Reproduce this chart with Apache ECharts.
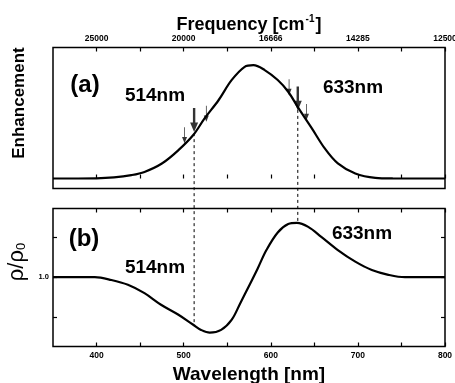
<!DOCTYPE html>
<html>
<head>
<meta charset="utf-8">
<script src="https://cdn.jsdelivr.net/npm/echarts@6/dist/echarts.min.js"></script>
<style>
  html, body { margin: 0; padding: 0; background: #fff; }
  #main { width: 455px; height: 383px; }
</style>
</head>
<body>
<div id="main"></div>
<script>
// (a) enhancement curve
var wlTop = [350, 400, 420, 440, 455, 475, 494, 511, 524, 540, 555, 570, 580, 593, 608, 620, 632, 647, 662, 677, 697, 720, 740, 800];
var enhancement = [0, 0.002, 0.01, 0.03, 0.058, 0.132, 0.25, 0.383, 0.53, 0.69, 0.867, 0.985, 1.0, 0.956, 0.868, 0.765, 0.618, 0.444, 0.265, 0.133, 0.044, 0.006, 0.001, 0];

// (b) rho / rho0
var wlBottom = [350, 398, 417, 436, 455, 474, 494, 511, 520, 530, 543, 555, 565, 575, 585, 595, 608, 620, 630, 643, 658, 677, 697, 716, 735, 754, 800];
var rhoRatio = [1.0, 1.0, 0.993, 0.981, 0.960, 0.931, 0.906, 0.881, 0.868, 0.861, 0.868, 0.893, 0.935, 0.978, 1.022, 1.068, 1.112, 1.133, 1.136, 1.126, 1.101, 1.068, 1.039, 1.018, 1.006, 1.0, 1.0];

// axis ticks / labels
var tickWl = [400, 450, 500, 550, 600, 650, 700, 750, 800];
var labelWl = [400, 500, 600, 700, 800];
var freqLabels = ['25000', '20000', '16666', '14285', '12500'];
var rhoTicks = [0.9, 1.0, 1.1];
var rhoLabels = [1.0];

// laser lines and arrows
var laserWl = [512, 631];
var laserTop = [0.40, 0.605];
var laserBottom = [0.879, 1.136];
var thinArrowWl = [501, 526, 621, 641];
var thinArrowTip = [0.31, 0.50, 0.735, 0.515];
var boldArrowWl = [512, 631];
var boldArrowTip = [0.41, 0.60];

function pairs(xs, ys) {
    return xs.map(function (x, i) { return [x, ys[i]]; });
}

var FONT = 'Liberation Sans, Arial, sans-serif';
var myChart = echarts.init(document.getElementById('main'));

var tickStyle = { inside: true, length: 4, lineStyle: { color: '#000', width: 1.2 }, customValues: tickWl };

var option = {
    animation: false,
    backgroundColor: '#fff',
    grid: [
        { left: 53, right: 10, top: 47.5, height: 141, show: true, borderColor: '#000', borderWidth: 1.5, outerBoundsMode: 'none' },
        { left: 53, right: 10, top: 208.5, height: 138, show: true, borderColor: '#000', borderWidth: 1.5, outerBoundsMode: 'none' }
    ],
    xAxis: [
        { type: 'value', gridIndex: 0, position: 'bottom', min: 350, max: 800,
          axisLine: { show: false }, splitLine: { show: false },
          axisTick: tickStyle, axisLabel: { show: false } },
        { type: 'value', gridIndex: 0, position: 'top', min: 350, max: 800,
          axisLine: { show: false }, splitLine: { show: false },
          axisTick: tickStyle,
          axisLabel: { customValues: labelWl, margin: 4, fontSize: 8.5, fontWeight: 'bold', color: '#000', fontFamily: FONT,
              formatter: function (v) { return freqLabels[labelWl.indexOf(v)]; } },
          name: 'Frequency [cm{sup|-1}]', nameLocation: 'middle', nameGap: 12,
          nameTextStyle: { fontSize: 18, fontWeight: 'bold', color: '#000', fontFamily: FONT,
              rich: { sup: { fontSize: 10, fontWeight: 'bold', verticalAlign: 'top', padding: [0, 1, 10, 1], fontFamily: FONT } } } },
        { type: 'value', gridIndex: 1, position: 'top', min: 350, max: 800,
          axisLine: { show: false }, splitLine: { show: false },
          axisTick: tickStyle, axisLabel: { show: false } },
        { type: 'value', gridIndex: 1, position: 'bottom', min: 350, max: 800,
          axisLine: { show: false }, splitLine: { show: false },
          axisTick: tickStyle,
          axisLabel: { customValues: labelWl, margin: 5, fontSize: 8.5, fontWeight: 'bold', color: '#000', fontFamily: FONT },
          name: 'Wavelength [nm]', nameLocation: 'middle', nameGap: 19,
          nameTextStyle: { fontSize: 19, fontWeight: 'bold', color: '#000', fontFamily: FONT } }
    ],
    yAxis: [
        { type: 'value', gridIndex: 0, min: -0.088, max: 1.155,
          axisLine: { show: false }, splitLine: { show: false }, axisTick: { show: false }, axisLabel: { show: false } },
        { type: 'value', gridIndex: 1, min: 0.8265, max: 1.172,
          axisLine: { show: false }, splitLine: { show: false },
          axisTick: { inside: true, length: 4, lineStyle: { color: '#000', width: 1.2 }, customValues: rhoTicks },
          axisLabel: { customValues: rhoLabels, margin: 4, fontSize: 7.5, fontWeight: 'bold', color: '#000', fontFamily: FONT,
              formatter: function (v) { return v.toFixed(1); } } },
        { type: 'value', gridIndex: 1, position: 'right', min: 0.8265, max: 1.172,
          axisLine: { show: false }, splitLine: { show: false },
          axisTick: { inside: true, length: 4, lineStyle: { color: '#000', width: 1.2 }, customValues: rhoTicks },
          axisLabel: { show: false } }
    ],
    series: [
        { type: 'line', xAxisIndex: 0, yAxisIndex: 0, data: pairs(wlTop, enhancement),
          smooth: 0.35, showSymbol: false, lineStyle: { color: '#000', width: 2.2 } },
        { type: 'line', xAxisIndex: 3, yAxisIndex: 1, data: pairs(wlBottom, rhoRatio),
          smooth: 0.35, showSymbol: false, lineStyle: { color: '#000', width: 2.2 } },
        { type: 'scatter', xAxisIndex: 0, yAxisIndex: 0, data: pairs(thinArrowWl, thinArrowTip),
          symbol: 'path://M4.4,0 L5.6,0 L5.6,12 L9,12 L5,20 L1,12 L4.4,12 Z',
          symbolSize: [5, 16], symbolOffset: [0, '-50%'], itemStyle: { color: '#000' }, silent: true },
        { type: 'scatter', xAxisIndex: 0, yAxisIndex: 0, data: pairs(boldArrowWl, boldArrowTip),
          symbol: 'path://M3.5,0 L6.5,0 L6.5,12 L10,12 L5,20 L0,12 L3.5,12 Z',
          symbolSize: [8, 24], symbolOffset: [0, '-50%'], itemStyle: { color: '#000' }, silent: true }
    ]
};
myChart.setOption(option);

// dashed laser lines run from curve (a) down to curve (b), positions from the axes
var dashLines = laserWl.map(function (wl, i) {
    var p1 = myChart.convertToPixel({ xAxisIndex: 0, yAxisIndex: 0 }, [wl, laserTop[i]]);
    var p2 = myChart.convertToPixel({ xAxisIndex: 3, yAxisIndex: 1 }, [wl, laserBottom[i]]);
    return {
        type: 'line', z: 1, silent: true,
        shape: { x1: p1[0], y1: p1[1], x2: p2[0], y2: p2[1] },
        style: { stroke: '#000', lineWidth: 1, lineDash: [3, 3] }
    };
});

function label(text, x, y, size) {
    return { type: 'text', x: x, y: y, silent: true,
        style: { text: text, fill: '#000', font: 'bold ' + size + 'px ' + FONT, textAlign: 'center', textVerticalAlign: 'middle' } };
}

myChart.setOption({
    graphic: dashLines.concat([
        label('(a)', 85, 85, 24),
        label('514nm', 155, 96, 19),
        label('633nm', 353, 88, 19),
        label('(b)', 84, 239, 24),
        label('514nm', 155, 268, 19),
        label('633nm', 362, 234, 19),
        { type: 'text', x: 19, y: 103, rotation: Math.PI / 2, silent: true,
          style: { text: 'Enhancement', fill: '#000', font: 'bold 17px ' + FONT, textAlign: 'center', textVerticalAlign: 'middle' } },
        { type: 'text', x: 17, y: 262, rotation: Math.PI / 2, silent: true,
          style: { text: '{g|ρ/ρ}{s|0}', fill: '#000', textAlign: 'center', textVerticalAlign: 'middle',
              rich: { g: { fontSize: 22, fontFamily: FONT, fill: '#000' },
                      s: { fontSize: 13, fontFamily: FONT, fill: '#000', padding: [9, 0, 0, 0] } } } }
    ])
});
</script>
</body>
</html>
